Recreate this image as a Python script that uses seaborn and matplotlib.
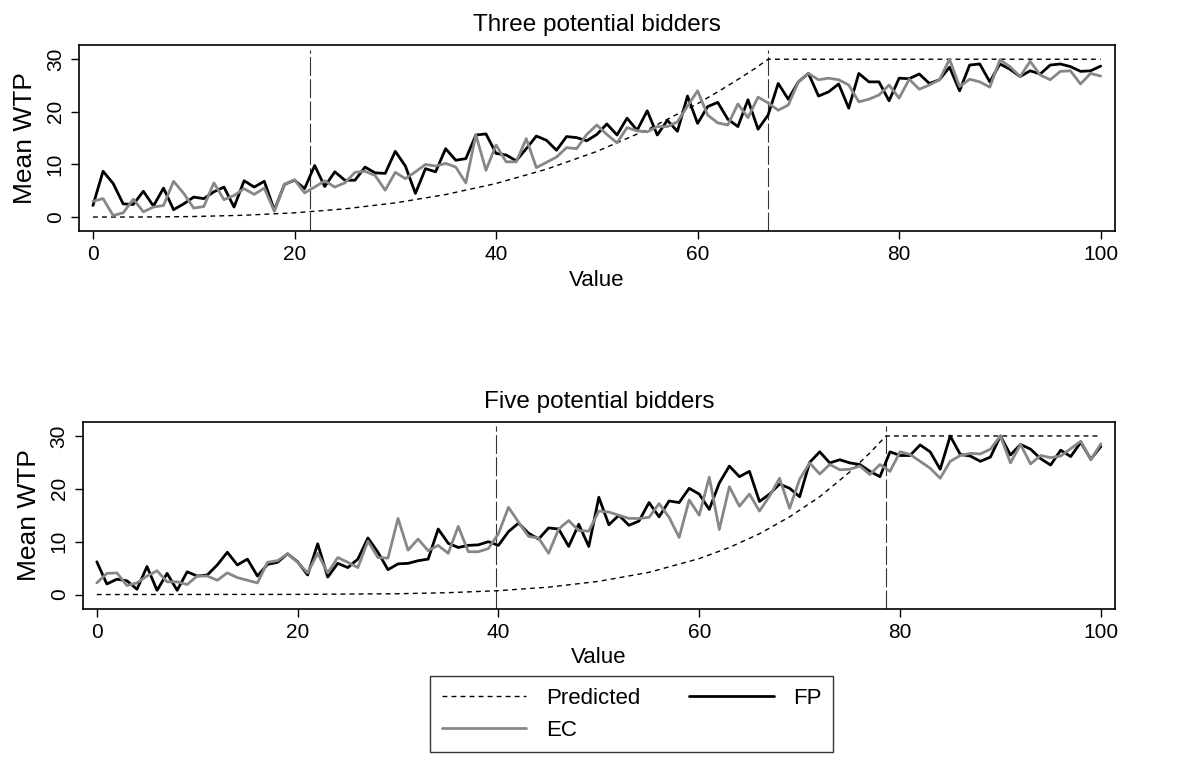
import matplotlib
matplotlib.use("Agg")
import matplotlib.pyplot as plt
import seaborn as sns

# ----------------------------------------------------
# Data
# ----------------------------------------------------

values = list(range(101))

# three potential bidders
fp3 = [2.2, 8.7, 6.4, 2.5, 2.4, 4.9, 2.1, 5.5, 1.4, 2.5,
       3.8, 3.5, 4.8, 5.7, 1.9, 6.9, 5.7, 6.8, 1.3, 6.2,
       7.0, 5.4, 9.8, 5.8, 8.6, 7.0, 7.0, 9.5, 8.4, 8.3,
       12.5, 9.7, 4.5, 9.2, 8.6, 13.0, 10.8, 11.1, 15.6, 15.8,
       12.1, 11.8, 10.7, 13.0, 15.4, 14.6, 12.7, 15.3, 15.1, 14.5,
       15.7, 17.7, 15.6, 18.8, 16.5, 20.2, 15.6, 18.4, 16.3, 23.0,
       17.8, 21.0, 21.8, 18.6, 17.2, 22.3, 16.7, 19.4, 25.4, 22.4,
       25.7, 27.3, 23.0, 23.8, 25.3, 20.7, 27.3, 25.7, 25.7, 22.1,
       26.4, 26.3, 27.2, 25.4, 26.1, 28.5, 24.0, 28.9, 29.1, 25.7,
       29.1, 28.1, 26.7, 27.8, 27.2, 28.9, 29.1, 28.6, 27.7, 27.8,
       28.7]
ec3 = [3.0, 3.5, 0.3, 0.8, 3.4, 1.0, 1.9, 2.2, 6.8, 4.5,
       1.7, 2.0, 6.5, 3.3, 4.1, 5.4, 4.3, 5.5, 1.1, 6.2,
       7.1, 4.6, 5.7, 6.9, 5.7, 6.5, 8.5, 8.7, 7.9, 5.1,
       8.5, 7.3, 8.6, 10.0, 9.7, 10.2, 9.5, 6.5, 15.6, 8.9,
       13.7, 10.5, 10.5, 14.9, 9.4, 10.4, 11.4, 13.2, 13.0, 15.7,
       17.5, 15.7, 14.1, 17.0, 16.4, 16.2, 17.2, 17.2, 18.1, 21.1,
       24.0, 19.4, 17.9, 17.5, 21.5, 18.9, 22.8, 21.7, 20.3, 21.3,
       25.7, 27.3, 26.1, 26.4, 26.1, 25.1, 21.9, 22.4, 23.2, 25.1,
       22.6, 26.2, 24.3, 25.1, 26.1, 30.0, 24.8, 26.2, 25.7, 24.7,
       29.9, 28.6, 26.7, 29.6, 27.0, 26.1, 27.7, 27.8, 25.3, 27.3,
       26.8]
pred3_x = [0, 5, 10, 15, 20, 25, 30, 35, 40, 45, 50, 55, 60, 62, 64, 65.5, 67, 100]
pred3_y = [0, 0.01, 0.1, 0.34, 0.8, 1.56, 2.69, 4.28, 6.38, 9.09, 12.47, 16.6,
           21.55, 23.8, 26.15, 28.0, 30, 30]
cut3 = [21.5, 67]

# five potential bidders
fp5 = [6.2, 2.0, 2.9, 2.6, 1.0, 5.3, 0.8, 4.0, 0.8, 4.3,
       3.5, 3.7, 5.6, 8.0, 5.6, 6.7, 3.5, 5.7, 6.1, 7.7,
       6.2, 3.7, 9.6, 3.3, 5.9, 5.1, 6.7, 10.7, 8.0, 4.7,
       5.8, 5.9, 6.4, 6.7, 12.4, 9.7, 8.9, 9.3, 9.4, 10.0,
       9.3, 11.9, 13.5, 11.6, 10.5, 12.6, 12.4, 9.1, 13.3, 9.1,
       18.4, 13.2, 15.0, 13.1, 13.9, 17.4, 14.7, 17.7, 17.4, 20.1,
       19.0, 16.1, 21.1, 24.3, 22.3, 23.3, 17.6, 19.0, 20.9, 20.1,
       18.5, 25.0, 27.0, 24.9, 25.5, 24.9, 24.6, 23.3, 22.3, 27.0,
       26.3, 26.3, 28.3, 27.0, 23.7, 30.0, 26.5, 26.2, 25.2, 26.0,
       30.0, 26.4, 28.4, 27.5, 25.7, 24.5, 27.3, 26.1, 28.8, 25.6,
       28.0]
ec5 = [2.2, 4.0, 4.1, 1.7, 2.2, 3.5, 4.5, 2.4, 2.4, 1.9,
       3.5, 3.5, 2.7, 4.1, 3.2, 2.7, 2.2, 6.1, 6.4, 7.7,
       6.1, 4.1, 7.8, 4.1, 7.0, 6.1, 5.1, 10.1, 7.0, 6.9,
       14.4, 8.4, 10.5, 8.3, 9.3, 7.8, 12.9, 8.1, 8.1, 8.7,
       11.5, 16.5, 13.7, 11.0, 10.7, 7.8, 12.4, 14.0, 12.1, 12.0,
       15.8, 15.6, 15.0, 14.4, 14.4, 14.6, 17.2, 14.6, 10.8, 17.9,
       15.0, 22.2, 12.3, 20.4, 16.7, 19.0, 15.8, 18.6, 22.0, 16.3,
       21.8, 24.9, 22.8, 24.6, 23.6, 23.7, 24.3, 22.7, 24.6, 23.3,
       27.0, 26.5, 25.2, 23.9, 22.0, 25.2, 26.3, 26.7, 26.6, 27.5,
       30.0, 24.9, 28.4, 24.7, 26.3, 25.9, 26.2, 27.6, 29.0, 25.5,
       28.5]
pred5_x = [0, 20, 30, 35, 40, 45, 50, 55, 60, 63, 66, 69, 72, 75, 77, 78.6, 100]
pred5_y = [0, 0.03, 0.15, 0.35, 0.73, 1.4, 2.5, 4.2, 6.8, 8.9, 11.5, 14.7,
           18.5, 23.2, 26.8, 30, 30]
cut5 = [39.8, 78.6]

# ----------------------------------------------------
# Style
# ----------------------------------------------------

sns.set_theme(style="ticks")
plt.rcParams["font.family"] = ["Liberation Sans", "DejaVu Sans"]
for key in ["text.color", "axes.labelcolor", "xtick.color", "ytick.color"]:
    plt.rcParams[key] = "black"

fig = plt.figure(figsize=(11.81, 7.66), dpi=100)
ax1 = fig.add_axes([0.0666, 0.6979, 0.8775, 0.2433])
ax2 = fig.add_axes([0.0699, 0.2050, 0.8743, 0.2445])


def draw_panel(ax, title, pred_x, pred_y, fp, ec, cuts):
    for c in cuts:
        ax.axvline(c, ymax=0.975, color="#333333", lw=0.8,
                   linestyle=(0, (17, 3)))
    sns.lineplot(x=pred_x, y=pred_y, ax=ax, color="black", lw=1.0,
                 linestyle=(0, (3.5, 3)), label="Predicted")
    sns.lineplot(x=values, y=fp, ax=ax, color="black", lw=2.0, label="FP")
    sns.lineplot(x=values, y=ec, ax=ax, color="#878787", lw=2.0, label="EC")
    ax.get_legend().remove()

    ax.set_xlim(-1.42, 101.42)
    ax.set_ylim(-2.73, 32.7)
    ax.set_xticks([0, 20, 40, 60, 80, 100])
    ax.set_yticks([0, 10, 20, 30])
    ax.tick_params(axis="both", length=6, width=1, color="black",
                   labelsize=15, pad=4)
    for lab in ax.get_yticklabels():
        lab.set_rotation(90)
        lab.set_va("center")
    for s in ax.spines.values():
        s.set_color("black")
        s.set_linewidth(1.2)
    ax.set_title(title, fontsize=17.5, pad=10)
    ax.set_xlabel("Value", fontsize=16, labelpad=4)
    ax.set_ylabel("Mean WTP", fontsize=19, labelpad=6)


draw_panel(ax1, "Three potential bidders", pred3_x, pred3_y, fp3, ec3, cut3)
draw_panel(ax2, "Five potential bidders", pred5_x, pred5_y, fp5, ec5, cut5)

handles, labels = ax1.get_legend_handles_labels()
order = [labels.index(k) for k in ["Predicted", "EC", "FP"]]
fig.legend([handles[i] for i in order], [labels[i] for i in order],
           loc="lower center", bbox_to_anchor=(0.535, 0.004), ncol=2,
           fontsize=16, frameon=True, fancybox=False, edgecolor="black",
           handlelength=3.8, handletextpad=0.9, columnspacing=2.2,
           labelspacing=0.5, borderpad=0.5)

fig.savefig("out.png", dpi=100)
